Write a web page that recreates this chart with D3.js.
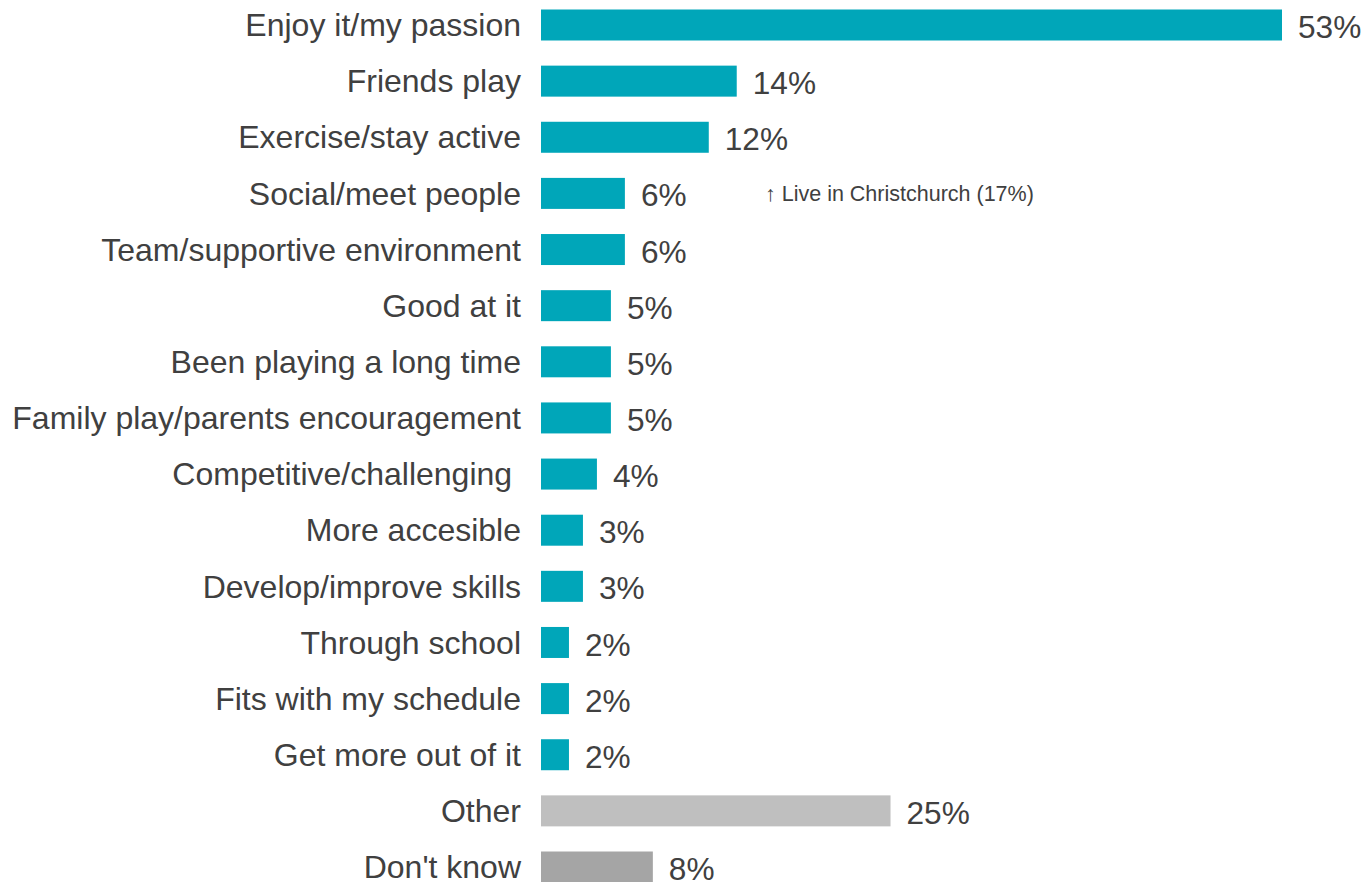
<!DOCTYPE html>
<html>
<head>
<meta charset="utf-8">
<script src="https://cdn.jsdelivr.net/npm/d3@7"></script>
<style>
  body { margin: 0; background: #fff; }
  svg text { font-family: "Liberation Sans", Arial, sans-serif; }
</style>
</head>
<body>
<div class="chart"></div>
<script>
const categories = [
  "Enjoy it/my passion", "Friends play", "Exercise/stay active", "Social/meet people",
  "Team/supportive environment", "Good at it", "Been playing a long time",
  "Family play/parents encouragement", "Competitive/challenging ", "More accesible",
  "Develop/improve skills", "Through school", "Fits with my schedule",
  "Get more out of it", "Other", "Don't know"
]
const values = [53, 14, 12, 6, 6, 5, 5, 5, 4, 3, 3, 2, 2, 2, 25, 8]
const barColors = ["#00a6b9", "#00a6b9", "#00a6b9", "#00a6b9", "#00a6b9", "#00a6b9", "#00a6b9",
  "#00a6b9", "#00a6b9", "#00a6b9", "#00a6b9", "#00a6b9", "#00a6b9", "#00a6b9", "#bfbfbf", "#a5a5a5"]
const noteRow = "Social/meet people"
const noteText = "\u2191 Live in Christchurch (17%)"

const width = 1366, height = 882

const svg = d3.select(".chart").append("svg")
  .attr("width", width)
  .attr("height", height)

const x = d3.scaleLinear()
  .domain([0, 53])
  .range([541, 1282])

const y = d3.scalePoint()
  .domain(categories)
  .range([25, 867])

const barH = 31

const data = categories.map((c, i) => ({cat: c, val: values[i], color: barColors[i]}))

const row = svg.append("g")
  .selectAll("g")
  .data(data)
  .enter()
  .append("g")

row.append("rect")
  .attr("x", x(0))
  .attr("y", d => y(d.cat) - barH / 2)
  .attr("width", d => x(d.val) - x(0))
  .attr("height", barH)
  .attr("fill", d => d.color)

row.append("text")
  .attr("x", x(0) - 20)
  .attr("y", d => y(d.cat))
  .attr("dy", "0.35em")
  .attr("text-anchor", "end")
  .attr("font-size", 32)
  .attr("fill", "#404040")
  .style("white-space", "pre")
  .text(d => d.cat)

row.append("text")
  .attr("x", d => x(d.val) + 16)
  .attr("y", d => y(d.cat) + 2)
  .attr("dy", "0.35em")
  .attr("font-size", 31.6)
  .attr("fill", "#404040")
  .text(d => d.val + "%")

svg.append("text")
  .attr("x", 765)
  .attr("y", y(noteRow))
  .attr("dy", "0.35em")
  .attr("font-size", 21.5)
  .attr("fill", "#404040")
  .text(noteText)
</script>
</body>
</html>
